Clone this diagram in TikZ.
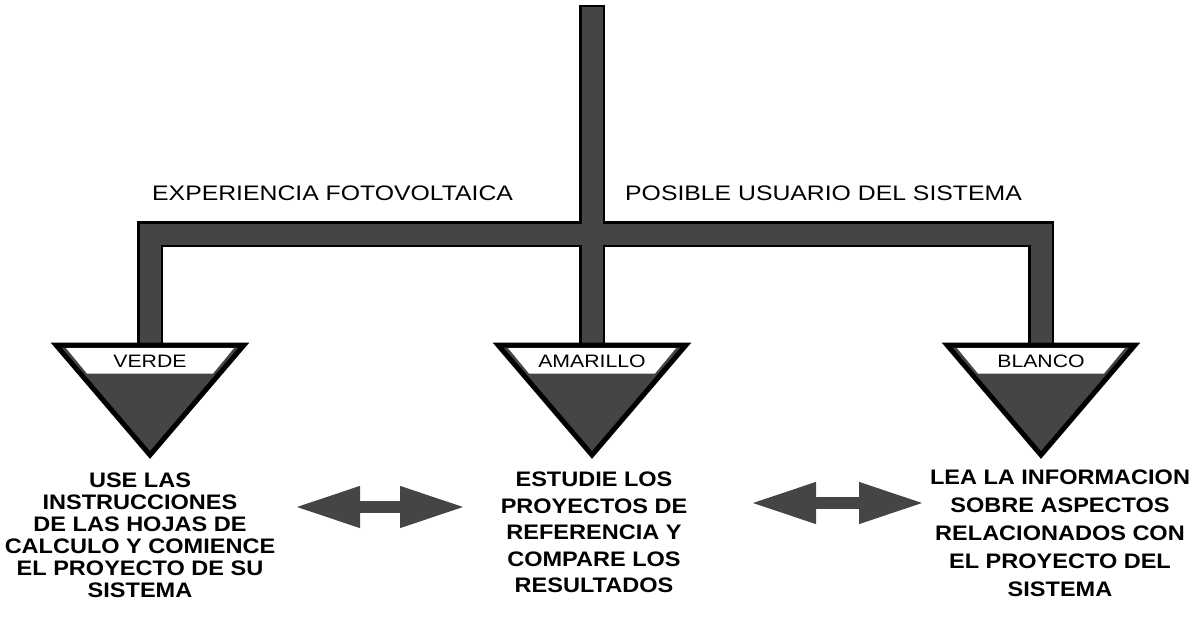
\documentclass[tikz,border=0pt]{standalone}
\usepackage{fontspec}
\setmainfont{Liberation Sans}
\newfontfamily\tfont[FakeStretch=1.18]{Liberation Sans}
\newfontfamily\bfont[FakeStretch=1.12]{Liberation Sans}
\usetikzlibrary{arrows.meta}
\definecolor{ink}{gray}{0.27}
\tikzset{
  barout/.style={line width=26pt, draw=black, line join=miter, line cap=butt},
  barin/.style={line width=21pt, draw=ink, line join=miter, line cap=butt},
  tri/.style={fill=ink, draw=black, line width=5pt, line join=miter},
  band/.style={fill=white},
  bandlabel/.style={font=\tfont\fontsize{18}{20}\selectfont, inner sep=0pt, anchor=base},
  head/.style={font=\tfont\fontsize{21}{25}\selectfont, inner sep=0pt, anchor=base west},
  body/.style={font=\bfont\bfseries\fontsize{21}{#1}\selectfont, inner sep=0pt, anchor=north, align=center},
  dbl/.style={draw=ink, line width=12pt,
    {Triangle[length=63pt 0 0,width=42pt 0 0,line width=1pt]}-{Triangle[length=63pt 0 0,width=42pt 0 0,line width=1pt]}},
}
\begin{document}
\begin{tikzpicture}[x=1pt,y=-1pt]
\useasboundingbox (0,0) rectangle (1197,629);
% anchor points
\coordinate (topc) at (592,7);
\coordinate (hy) at (592,234);
\coordinate (v) at (150,345);
\coordinate (a) at (592,345);
\coordinate (b) at (1041,345);
% bars: outlines first, then fills
\draw[barout] (v) |- (hy) -| (b);
\draw[barout] ([yshift=2pt]topc) -- (a);
\draw[barin] (v) |- (hy) -| (b);
\draw[barin] (topc) -- (a);
% triangles
\foreach \n/\lab in {v/VERDE, a/AMARILLO, b/BLANCO}{
  \draw[tri] ([xshift=-94pt]\n) -- ([xshift=94pt]\n) -- ([yshift=-110pt]\n) -- cycle;
  \fill[band] ([shift={(-84pt,-3pt)}]\n) -- ([shift={(84pt,-3pt)}]\n)
     -- ([shift={(63pt,-28.5pt)}]\n) -- ([shift={(-63pt,-28.5pt)}]\n) -- cycle;
  \node[bandlabel] (\n-lab) at ([yshift=-22pt]\n) {\lab};
}
% headings
\node[head] (exp) at (152,200) {EXPERIENCIA FOTOVOLTAICA};
\node[head] (pos) at (625,200) {POSIBLE USUARIO DEL SISTEMA};
% bodies
\node[body=22] (t1) at (140,473) {USE LAS\\INSTRUCCIONES\\DE LAS HOJAS DE\\CALCULO Y COMIENCE\\EL PROYECTO DE SU\\SISTEMA};
\node[body=26.5] (t2) at (594,472) {ESTUDIE LOS\\PROYECTOS DE\\REFERENCIA Y\\COMPARE LOS\\RESULTADOS};
\node[body=28] (t3) at (1060,470) {LEA LA INFORMACION\\SOBRE ASPECTOS\\RELACIONADOS CON\\EL PROYECTO DEL\\SISTEMA};
% double arrows
\coordinate (l1) at (297,507);
\coordinate (l2) at (463,507);
\coordinate (r1) at (753,503);
\coordinate (r2) at (922,503);
\draw[dbl] (l1) -- (l2);
\draw[dbl] (r1) -- (r2);
\end{tikzpicture}
\end{document}
